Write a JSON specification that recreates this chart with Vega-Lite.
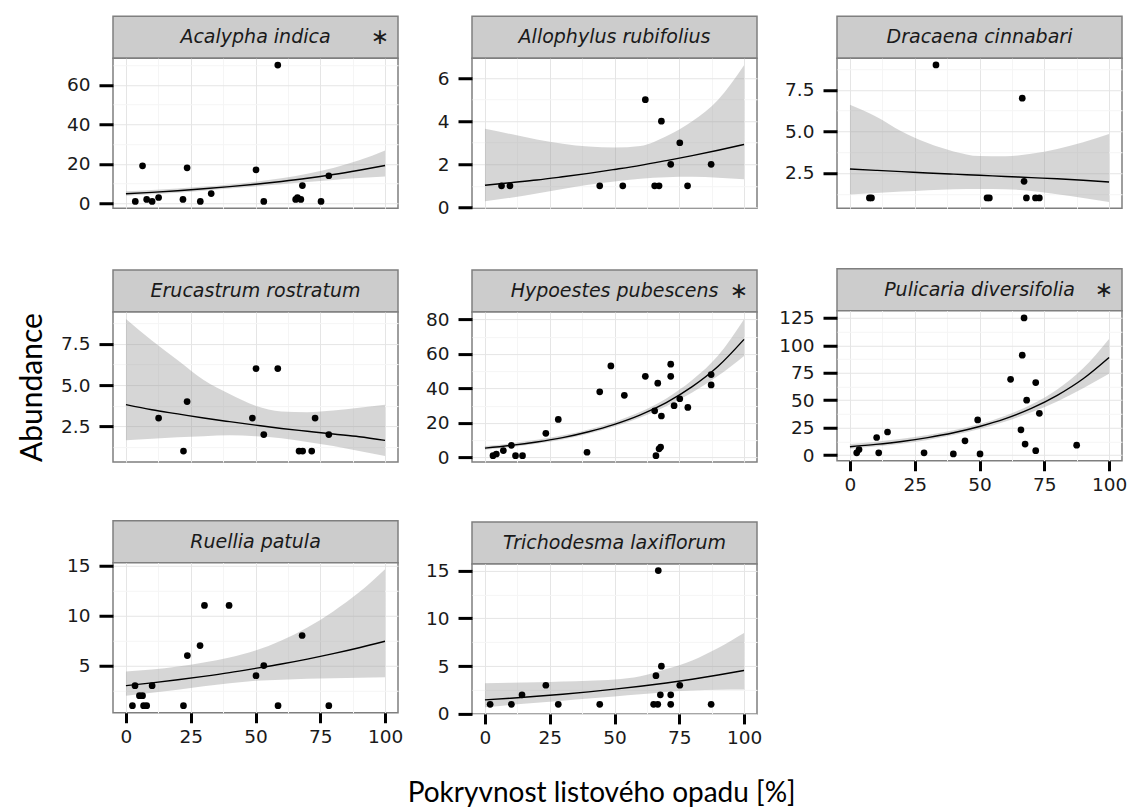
{
  "$schema": "https://vega.github.io/schema/vega-lite/v6.json",
  "background": "white",
  "padding": {"left": 16, "top": 15.25, "right": 5, "bottom": 0},
  "title": {"text": "Pokryvnost listového opadu [%]", "orient": "bottom", "anchor": "middle", "font": "Lato", "fontSize": 28, "fontWeight": "normal", "color": "#000000", "offset": 32, "dx": 29.5},
  "datasets": {
    "strips": [
      {"sp": "Acalypha indica", "sig": "∗"},
      {"sp": "Allophylus rubifolius", "sig": ""},
      {"sp": "Dracaena cinnabari", "sig": ""},
      {"sp": "Erucastrum rostratum", "sig": ""},
      {"sp": "Hypoestes pubescens", "sig": "∗"},
      {"sp": "Pulicaria diversifolia", "sig": "∗"},
      {"sp": "Ruellia patula", "sig": ""},
      {"sp": "Trichodesma laxiflorum", "sig": ""}
    ],
    "pts": [
      {"sp": "Acalypha indica", "x": 3.6, "y": 1}, {"sp": "Acalypha indica", "x": 6.4, "y": 19}, {"sp": "Acalypha indica", "x": 8.0, "y": 2}, {"sp": "Acalypha indica", "x": 10.1, "y": 1}, {"sp": "Acalypha indica", "x": 12.6, "y": 3}, {"sp": "Acalypha indica", "x": 22.0, "y": 2}, {"sp": "Acalypha indica", "x": 23.6, "y": 18}, {"sp": "Acalypha indica", "x": 28.7, "y": 1}, {"sp": "Acalypha indica", "x": 32.9, "y": 5}, {"sp": "Acalypha indica", "x": 50.2, "y": 17}, {"sp": "Acalypha indica", "x": 53.2, "y": 1}, {"sp": "Acalypha indica", "x": 58.6, "y": 70}, {"sp": "Acalypha indica", "x": 65.5, "y": 2}, {"sp": "Acalypha indica", "x": 66.2, "y": 3}, {"sp": "Acalypha indica", "x": 67.5, "y": 2}, {"sp": "Acalypha indica", "x": 68.1, "y": 9}, {"sp": "Acalypha indica", "x": 75.3, "y": 1}, {"sp": "Acalypha indica", "x": 78.3, "y": 14},
      {"sp": "Allophylus rubifolius", "x": 6.4, "y": 1}, {"sp": "Allophylus rubifolius", "x": 9.65, "y": 1}, {"sp": "Allophylus rubifolius", "x": 44.3, "y": 1}, {"sp": "Allophylus rubifolius", "x": 53.2, "y": 1}, {"sp": "Allophylus rubifolius", "x": 61.9, "y": 5}, {"sp": "Allophylus rubifolius", "x": 65.5, "y": 1}, {"sp": "Allophylus rubifolius", "x": 67.2, "y": 1}, {"sp": "Allophylus rubifolius", "x": 68.1, "y": 4}, {"sp": "Allophylus rubifolius", "x": 71.7, "y": 2}, {"sp": "Allophylus rubifolius", "x": 75.2, "y": 3}, {"sp": "Allophylus rubifolius", "x": 78.2, "y": 1}, {"sp": "Allophylus rubifolius", "x": 87.3, "y": 2},
      {"sp": "Dracaena cinnabari", "x": 7.5, "y": 1}, {"sp": "Dracaena cinnabari", "x": 8.3, "y": 1}, {"sp": "Dracaena cinnabari", "x": 33.2, "y": 9}, {"sp": "Dracaena cinnabari", "x": 52.9, "y": 1}, {"sp": "Dracaena cinnabari", "x": 53.8, "y": 1}, {"sp": "Dracaena cinnabari", "x": 66.5, "y": 7}, {"sp": "Dracaena cinnabari", "x": 67.2, "y": 2}, {"sp": "Dracaena cinnabari", "x": 68.1, "y": 1}, {"sp": "Dracaena cinnabari", "x": 71.6, "y": 1}, {"sp": "Dracaena cinnabari", "x": 73.1, "y": 1},
      {"sp": "Erucastrum rostratum", "x": 12.6, "y": 3}, {"sp": "Erucastrum rostratum", "x": 22.2, "y": 1}, {"sp": "Erucastrum rostratum", "x": 23.6, "y": 4}, {"sp": "Erucastrum rostratum", "x": 48.8, "y": 3}, {"sp": "Erucastrum rostratum", "x": 50.2, "y": 6}, {"sp": "Erucastrum rostratum", "x": 53.2, "y": 2}, {"sp": "Erucastrum rostratum", "x": 58.6, "y": 6}, {"sp": "Erucastrum rostratum", "x": 66.8, "y": 1}, {"sp": "Erucastrum rostratum", "x": 68.2, "y": 1}, {"sp": "Erucastrum rostratum", "x": 71.7, "y": 1}, {"sp": "Erucastrum rostratum", "x": 73.0, "y": 3}, {"sp": "Erucastrum rostratum", "x": 78.3, "y": 2},
      {"sp": "Hypoestes pubescens", "x": 3.1, "y": 1}, {"sp": "Hypoestes pubescens", "x": 4.4, "y": 2}, {"sp": "Hypoestes pubescens", "x": 7.1, "y": 4}, {"sp": "Hypoestes pubescens", "x": 10.2, "y": 7}, {"sp": "Hypoestes pubescens", "x": 11.8, "y": 1}, {"sp": "Hypoestes pubescens", "x": 14.5, "y": 1}, {"sp": "Hypoestes pubescens", "x": 23.5, "y": 14}, {"sp": "Hypoestes pubescens", "x": 28.3, "y": 22}, {"sp": "Hypoestes pubescens", "x": 39.4, "y": 3}, {"sp": "Hypoestes pubescens", "x": 44.3, "y": 38}, {"sp": "Hypoestes pubescens", "x": 48.6, "y": 53}, {"sp": "Hypoestes pubescens", "x": 53.8, "y": 36}, {"sp": "Hypoestes pubescens", "x": 61.9, "y": 47}, {"sp": "Hypoestes pubescens", "x": 65.5, "y": 27}, {"sp": "Hypoestes pubescens", "x": 66.0, "y": 1}, {"sp": "Hypoestes pubescens", "x": 66.7, "y": 43}, {"sp": "Hypoestes pubescens", "x": 67.2, "y": 5}, {"sp": "Hypoestes pubescens", "x": 67.8, "y": 6}, {"sp": "Hypoestes pubescens", "x": 68.1, "y": 24}, {"sp": "Hypoestes pubescens", "x": 71.7, "y": 54}, {"sp": "Hypoestes pubescens", "x": 71.7, "y": 47}, {"sp": "Hypoestes pubescens", "x": 73.0, "y": 30}, {"sp": "Hypoestes pubescens", "x": 75.2, "y": 34}, {"sp": "Hypoestes pubescens", "x": 78.3, "y": 29}, {"sp": "Hypoestes pubescens", "x": 87.3, "y": 48}, {"sp": "Hypoestes pubescens", "x": 87.3, "y": 42},
      {"sp": "Pulicaria diversifolia", "x": 2.6, "y": 2}, {"sp": "Pulicaria diversifolia", "x": 3.5, "y": 5}, {"sp": "Pulicaria diversifolia", "x": 10.3, "y": 16}, {"sp": "Pulicaria diversifolia", "x": 11.1, "y": 2}, {"sp": "Pulicaria diversifolia", "x": 14.5, "y": 21}, {"sp": "Pulicaria diversifolia", "x": 28.6, "y": 2}, {"sp": "Pulicaria diversifolia", "x": 39.9, "y": 1}, {"sp": "Pulicaria diversifolia", "x": 44.4, "y": 13}, {"sp": "Pulicaria diversifolia", "x": 49.3, "y": 32}, {"sp": "Pulicaria diversifolia", "x": 50.2, "y": 1}, {"sp": "Pulicaria diversifolia", "x": 62.0, "y": 69}, {"sp": "Pulicaria diversifolia", "x": 66.0, "y": 23}, {"sp": "Pulicaria diversifolia", "x": 66.5, "y": 91}, {"sp": "Pulicaria diversifolia", "x": 67.2, "y": 125}, {"sp": "Pulicaria diversifolia", "x": 67.6, "y": 10}, {"sp": "Pulicaria diversifolia", "x": 68.2, "y": 50}, {"sp": "Pulicaria diversifolia", "x": 71.7, "y": 66}, {"sp": "Pulicaria diversifolia", "x": 71.7, "y": 4}, {"sp": "Pulicaria diversifolia", "x": 73.1, "y": 38}, {"sp": "Pulicaria diversifolia", "x": 87.5, "y": 9},
      {"sp": "Ruellia patula", "x": 2.5, "y": 1}, {"sp": "Ruellia patula", "x": 3.5, "y": 3}, {"sp": "Ruellia patula", "x": 5.2, "y": 2}, {"sp": "Ruellia patula", "x": 6.4, "y": 2}, {"sp": "Ruellia patula", "x": 6.8, "y": 1}, {"sp": "Ruellia patula", "x": 8.0, "y": 1}, {"sp": "Ruellia patula", "x": 10.1, "y": 3}, {"sp": "Ruellia patula", "x": 22.2, "y": 1}, {"sp": "Ruellia patula", "x": 23.7, "y": 6}, {"sp": "Ruellia patula", "x": 28.6, "y": 7}, {"sp": "Ruellia patula", "x": 30.3, "y": 11}, {"sp": "Ruellia patula", "x": 39.8, "y": 11}, {"sp": "Ruellia patula", "x": 50.2, "y": 4}, {"sp": "Ruellia patula", "x": 53.2, "y": 5}, {"sp": "Ruellia patula", "x": 58.7, "y": 1}, {"sp": "Ruellia patula", "x": 68.0, "y": 8}, {"sp": "Ruellia patula", "x": 78.3, "y": 1},
      {"sp": "Trichodesma laxiflorum", "x": 2.0, "y": 1}, {"sp": "Trichodesma laxiflorum", "x": 10.2, "y": 1}, {"sp": "Trichodesma laxiflorum", "x": 14.3, "y": 2}, {"sp": "Trichodesma laxiflorum", "x": 23.5, "y": 3}, {"sp": "Trichodesma laxiflorum", "x": 28.3, "y": 1}, {"sp": "Trichodesma laxiflorum", "x": 44.3, "y": 1}, {"sp": "Trichodesma laxiflorum", "x": 65.1, "y": 1}, {"sp": "Trichodesma laxiflorum", "x": 66.0, "y": 4}, {"sp": "Trichodesma laxiflorum", "x": 66.7, "y": 1}, {"sp": "Trichodesma laxiflorum", "x": 66.9, "y": 15}, {"sp": "Trichodesma laxiflorum", "x": 67.7, "y": 2}, {"sp": "Trichodesma laxiflorum", "x": 68.1, "y": 5}, {"sp": "Trichodesma laxiflorum", "x": 71.7, "y": 2}, {"sp": "Trichodesma laxiflorum", "x": 71.7, "y": 1}, {"sp": "Trichodesma laxiflorum", "x": 75.2, "y": 3}, {"sp": "Trichodesma laxiflorum", "x": 87.3, "y": 1}
    ],
    "fit": [
      {"sp": "Acalypha indica", "x": 0, "fit": 4.9, "lo": 3.9, "hi": 6.2}, {"sp": "Acalypha indica", "x": 10, "fit": 5.6, "lo": 4.6, "hi": 6.8}, {"sp": "Acalypha indica", "x": 20, "fit": 6.4, "lo": 5.4, "hi": 7.6}, {"sp": "Acalypha indica", "x": 30, "fit": 7.4, "lo": 6.4, "hi": 8.5}, {"sp": "Acalypha indica", "x": 40, "fit": 8.5, "lo": 7.5, "hi": 9.6}, {"sp": "Acalypha indica", "x": 50, "fit": 9.7, "lo": 8.6, "hi": 11.0}, {"sp": "Acalypha indica", "x": 60, "fit": 11.1, "lo": 9.7, "hi": 12.7}, {"sp": "Acalypha indica", "x": 70, "fit": 12.7, "lo": 10.8, "hi": 15.0}, {"sp": "Acalypha indica", "x": 80, "fit": 14.6, "lo": 11.9, "hi": 17.9}, {"sp": "Acalypha indica", "x": 90, "fit": 16.8, "lo": 12.8, "hi": 21.8}, {"sp": "Acalypha indica", "x": 100, "fit": 19.2, "lo": 13.6, "hi": 26.8},
      {"sp": "Allophylus rubifolius", "x": 0, "fit": 1.03, "lo": 0.28, "hi": 3.65}, {"sp": "Allophylus rubifolius", "x": 10, "fit": 1.15, "lo": 0.45, "hi": 3.4}, {"sp": "Allophylus rubifolius", "x": 20, "fit": 1.27, "lo": 0.65, "hi": 3.15}, {"sp": "Allophylus rubifolius", "x": 30, "fit": 1.42, "lo": 0.85, "hi": 2.95}, {"sp": "Allophylus rubifolius", "x": 40, "fit": 1.58, "lo": 1.05, "hi": 2.82}, {"sp": "Allophylus rubifolius", "x": 50, "fit": 1.76, "lo": 1.2, "hi": 2.78}, {"sp": "Allophylus rubifolius", "x": 60, "fit": 1.95, "lo": 1.33, "hi": 2.85}, {"sp": "Allophylus rubifolius", "x": 70, "fit": 2.17, "lo": 1.4, "hi": 3.3}, {"sp": "Allophylus rubifolius", "x": 80, "fit": 2.4, "lo": 1.42, "hi": 4.0}, {"sp": "Allophylus rubifolius", "x": 90, "fit": 2.65, "lo": 1.38, "hi": 5.0}, {"sp": "Allophylus rubifolius", "x": 100, "fit": 2.92, "lo": 1.31, "hi": 6.6},
      {"sp": "Dracaena cinnabari", "x": 0, "fit": 2.74, "lo": 1.2, "hi": 6.6}, {"sp": "Dracaena cinnabari", "x": 10, "fit": 2.66, "lo": 1.3, "hi": 5.9}, {"sp": "Dracaena cinnabari", "x": 20, "fit": 2.58, "lo": 1.38, "hi": 5.0}, {"sp": "Dracaena cinnabari", "x": 30, "fit": 2.5, "lo": 1.46, "hi": 4.3}, {"sp": "Dracaena cinnabari", "x": 40, "fit": 2.43, "lo": 1.52, "hi": 3.8}, {"sp": "Dracaena cinnabari", "x": 50, "fit": 2.36, "lo": 1.54, "hi": 3.52}, {"sp": "Dracaena cinnabari", "x": 60, "fit": 2.29, "lo": 1.52, "hi": 3.5}, {"sp": "Dracaena cinnabari", "x": 70, "fit": 2.22, "lo": 1.42, "hi": 3.65}, {"sp": "Dracaena cinnabari", "x": 80, "fit": 2.15, "lo": 1.22, "hi": 3.95}, {"sp": "Dracaena cinnabari", "x": 90, "fit": 2.06, "lo": 1.0, "hi": 4.35}, {"sp": "Dracaena cinnabari", "x": 100, "fit": 1.96, "lo": 0.76, "hi": 4.85},
      {"sp": "Erucastrum rostratum", "x": 0, "fit": 3.81, "lo": 1.65, "hi": 9.0}, {"sp": "Erucastrum rostratum", "x": 10, "fit": 3.5, "lo": 1.75, "hi": 7.7}, {"sp": "Erucastrum rostratum", "x": 20, "fit": 3.25, "lo": 1.83, "hi": 6.5}, {"sp": "Erucastrum rostratum", "x": 30, "fit": 3.0, "lo": 1.9, "hi": 5.3}, {"sp": "Erucastrum rostratum", "x": 40, "fit": 2.78, "lo": 1.95, "hi": 4.45}, {"sp": "Erucastrum rostratum", "x": 50, "fit": 2.57, "lo": 1.9, "hi": 3.75}, {"sp": "Erucastrum rostratum", "x": 60, "fit": 2.37, "lo": 1.78, "hi": 3.4}, {"sp": "Erucastrum rostratum", "x": 70, "fit": 2.2, "lo": 1.55, "hi": 3.35}, {"sp": "Erucastrum rostratum", "x": 80, "fit": 2.03, "lo": 1.3, "hi": 3.45}, {"sp": "Erucastrum rostratum", "x": 90, "fit": 1.87, "lo": 1.0, "hi": 3.62}, {"sp": "Erucastrum rostratum", "x": 100, "fit": 1.65, "lo": 0.7, "hi": 3.81},
      {"sp": "Hypoestes pubescens", "x": 0, "fit": 5.4, "lo": 4.4, "hi": 6.6}, {"sp": "Hypoestes pubescens", "x": 10, "fit": 6.96, "lo": 5.9, "hi": 8.2}, {"sp": "Hypoestes pubescens", "x": 20, "fit": 8.96, "lo": 7.9, "hi": 10.2}, {"sp": "Hypoestes pubescens", "x": 30, "fit": 11.5, "lo": 10.4, "hi": 12.8}, {"sp": "Hypoestes pubescens", "x": 40, "fit": 14.9, "lo": 13.7, "hi": 16.2}, {"sp": "Hypoestes pubescens", "x": 50, "fit": 19.2, "lo": 17.9, "hi": 20.6}, {"sp": "Hypoestes pubescens", "x": 60, "fit": 24.7, "lo": 23.1, "hi": 26.4}, {"sp": "Hypoestes pubescens", "x": 70, "fit": 31.8, "lo": 29.6, "hi": 34.2}, {"sp": "Hypoestes pubescens", "x": 80, "fit": 41.0, "lo": 37.6, "hi": 44.8}, {"sp": "Hypoestes pubescens", "x": 90, "fit": 52.8, "lo": 47.3, "hi": 59.0}, {"sp": "Hypoestes pubescens", "x": 100, "fit": 68.4, "lo": 58.8, "hi": 80.0},
      {"sp": "Pulicaria diversifolia", "x": 0, "fit": 7.6, "lo": 5.8, "hi": 10.0}, {"sp": "Pulicaria diversifolia", "x": 10, "fit": 9.7, "lo": 7.7, "hi": 12.2}, {"sp": "Pulicaria diversifolia", "x": 20, "fit": 12.4, "lo": 10.3, "hi": 14.9}, {"sp": "Pulicaria diversifolia", "x": 30, "fit": 15.9, "lo": 13.8, "hi": 18.2}, {"sp": "Pulicaria diversifolia", "x": 40, "fit": 20.3, "lo": 18.2, "hi": 22.5}, {"sp": "Pulicaria diversifolia", "x": 50, "fit": 26.0, "lo": 23.8, "hi": 28.2}, {"sp": "Pulicaria diversifolia", "x": 60, "fit": 33.2, "lo": 30.6, "hi": 35.8}, {"sp": "Pulicaria diversifolia", "x": 70, "fit": 42.5, "lo": 38.9, "hi": 46.0}, {"sp": "Pulicaria diversifolia", "x": 80, "fit": 54.4, "lo": 48.8, "hi": 59.8}, {"sp": "Pulicaria diversifolia", "x": 90, "fit": 69.5, "lo": 60.8, "hi": 79.0}, {"sp": "Pulicaria diversifolia", "x": 100, "fit": 88.9, "lo": 74.0, "hi": 105.8},
      {"sp": "Ruellia patula", "x": 0, "fit": 3.0, "lo": 2.0, "hi": 4.4}, {"sp": "Ruellia patula", "x": 10, "fit": 3.28, "lo": 2.3, "hi": 4.6}, {"sp": "Ruellia patula", "x": 20, "fit": 3.59, "lo": 2.6, "hi": 4.9}, {"sp": "Ruellia patula", "x": 30, "fit": 3.93, "lo": 2.95, "hi": 5.3}, {"sp": "Ruellia patula", "x": 40, "fit": 4.3, "lo": 3.25, "hi": 5.8}, {"sp": "Ruellia patula", "x": 50, "fit": 4.72, "lo": 3.5, "hi": 6.5}, {"sp": "Ruellia patula", "x": 60, "fit": 5.16, "lo": 3.6, "hi": 7.5}, {"sp": "Ruellia patula", "x": 70, "fit": 5.65, "lo": 3.7, "hi": 8.8}, {"sp": "Ruellia patula", "x": 80, "fit": 6.19, "lo": 3.75, "hi": 10.4}, {"sp": "Ruellia patula", "x": 90, "fit": 6.78, "lo": 3.8, "hi": 12.3}, {"sp": "Ruellia patula", "x": 100, "fit": 7.43, "lo": 3.83, "hi": 14.6},
      {"sp": "Trichodesma laxiflorum", "x": 0, "fit": 1.47, "lo": 0.7, "hi": 3.22}, {"sp": "Trichodesma laxiflorum", "x": 10, "fit": 1.64, "lo": 0.95, "hi": 3.25}, {"sp": "Trichodesma laxiflorum", "x": 20, "fit": 1.84, "lo": 1.17, "hi": 3.3}, {"sp": "Trichodesma laxiflorum", "x": 30, "fit": 2.06, "lo": 1.38, "hi": 3.38}, {"sp": "Trichodesma laxiflorum", "x": 40, "fit": 2.31, "lo": 1.6, "hi": 3.48}, {"sp": "Trichodesma laxiflorum", "x": 50, "fit": 2.59, "lo": 1.82, "hi": 3.6}, {"sp": "Trichodesma laxiflorum", "x": 60, "fit": 2.9, "lo": 2.05, "hi": 3.95}, {"sp": "Trichodesma laxiflorum", "x": 70, "fit": 3.24, "lo": 2.3, "hi": 4.7}, {"sp": "Trichodesma laxiflorum", "x": 80, "fit": 3.63, "lo": 2.45, "hi": 5.6}, {"sp": "Trichodesma laxiflorum", "x": 90, "fit": 4.07, "lo": 2.52, "hi": 6.9}, {"sp": "Trichodesma laxiflorum", "x": 100, "fit": 4.55, "lo": 2.55, "hi": 8.46}
    ]
  },
  "spacing": 20,
  "hconcat": [
    {"spacing": 56.5, "vconcat": [
      {"spacing": 54.85, "vconcat": [
        {"spacing": 0, "bounds": "flush", "vconcat": [
          {"width": 285, "height": 42, "view": {"fill": "#cccccc", "stroke": "#7f7f7f", "strokeWidth": 1.5}, "data": {"name": "strips"}, "transform": [{"filter": "datum.sp === 'Acalypha indica'"}],
           "layer": [
            {"mark": {"type": "text", "font": "DejaVu Sans", "fontStyle": "italic", "fontSize": 19, "color": "#1a1a1a"}, "encoding": {"text": {"field": "sp"}}},
            {"transform": [{"filter": "datum.sig !== ''"}], "mark": {"type": "text", "font": "DejaVu Sans", "fontSize": 22, "color": "#1a1a1a"}, "encoding": {"text": {"field": "sig"}, "x": {"datum": 98, "type": "quantitative", "scale": {"domain": [-5, 105], "nice": false, "zero": false}, "axis": null}}}
           ]},
          {"width": 285, "height": 150, "view": {"fill": "white", "stroke": "#7f7f7f", "strokeWidth": 1.5}, "resolve": {"axis": {"x": "independent", "y": "independent"}},
           "layer": [
            {"data": {"name": "fit"}, "transform": [{"filter": "datum.sp === 'Acalypha indica'"}], "mark": {"type": "area", "color": "#999999", "opacity": 0.4, "interpolate": "monotone"},
             "encoding": {"x": {"field": "x", "type": "quantitative", "scale": {"domain": [-5, 105], "nice": false, "zero": false}, "axis": {"values": [0, 25, 50, 75, 100], "grid": true, "labels": false, "ticks": false, "title": null}},
                          "y": {"field": "lo", "type": "quantitative", "scale": {"domain": [-2.45, 73.45], "nice": false, "zero": false}, "axis": {"values": [0, 20, 40, 60], "grid": true, "ticks": true, "title": null}},
                          "y2": {"field": "hi"}}},
            {"data": {"name": "fit"}, "transform": [{"filter": "datum.sp === 'Acalypha indica'"}], "mark": {"type": "line", "color": "black", "strokeWidth": 1.4, "interpolate": "monotone"},
             "encoding": {"x": {"field": "x", "type": "quantitative", "axis": {"orient": "top", "values": [12.5, 37.5, 62.5, 87.5], "grid": true, "gridColor": "#f5f5f5", "labels": false, "ticks": false, "title": null, "minExtent": 0}},
                          "y": {"field": "fit", "type": "quantitative", "axis": {"orient": "right", "values": [10, 30, 50, 70], "grid": true, "gridColor": "#f5f5f5", "labels": false, "ticks": false, "title": null, "minExtent": 0}}}},
            {"data": {"name": "pts"}, "transform": [{"filter": "datum.sp === 'Acalypha indica'"}], "mark": {"type": "circle", "size": 45, "color": "black", "opacity": 1},
             "encoding": {"x": {"field": "x", "type": "quantitative", "axis": null}, "y": {"field": "y", "type": "quantitative", "axis": null}}}
           ]}
        ]},
        {"spacing": 0, "bounds": "flush", "vconcat": [
          {"width": 285, "height": 42, "view": {"fill": "#cccccc", "stroke": "#7f7f7f", "strokeWidth": 1.5}, "data": {"name": "strips"}, "transform": [{"filter": "datum.sp === 'Erucastrum rostratum'"}],
           "layer": [
            {"mark": {"type": "text", "font": "DejaVu Sans", "fontStyle": "italic", "fontSize": 19, "color": "#1a1a1a"}, "encoding": {"text": {"field": "sp"}}}
           ]},
          {"width": 285, "height": 150, "view": {"fill": "white", "stroke": "#7f7f7f", "strokeWidth": 1.5}, "resolve": {"axis": {"x": "independent", "y": "independent"}},
           "layer": [
            {"data": {"name": "fit"}, "transform": [{"filter": "datum.sp === 'Erucastrum rostratum'"}], "mark": {"type": "area", "color": "#999999", "opacity": 0.4, "interpolate": "monotone"},
             "encoding": {"x": {"field": "x", "type": "quantitative", "scale": {"domain": [-5, 105], "nice": false, "zero": false}, "axis": {"values": [0, 25, 50, 75, 100], "grid": true, "labels": false, "ticks": false, "title": null}},
                          "y": {"field": "lo", "type": "quantitative", "scale": {"domain": [0.33, 9.42], "nice": false, "zero": false}, "axis": {"values": [2.5, 5, 7.5], "format": ".1f", "grid": true, "ticks": true, "title": "Abundance", "titlePadding": 13, "titleFontSize": 30}},
                          "y2": {"field": "hi"}}},
            {"data": {"name": "fit"}, "transform": [{"filter": "datum.sp === 'Erucastrum rostratum'"}], "mark": {"type": "line", "color": "black", "strokeWidth": 1.4, "interpolate": "monotone"},
             "encoding": {"x": {"field": "x", "type": "quantitative", "axis": {"orient": "top", "values": [12.5, 37.5, 62.5, 87.5], "grid": true, "gridColor": "#f5f5f5", "labels": false, "ticks": false, "title": null, "minExtent": 0}},
                          "y": {"field": "fit", "type": "quantitative", "axis": {"orient": "right", "values": [1.25, 3.75, 6.25, 8.75], "grid": true, "gridColor": "#f5f5f5", "labels": false, "ticks": false, "title": null, "minExtent": 0}}}},
            {"data": {"name": "pts"}, "transform": [{"filter": "datum.sp === 'Erucastrum rostratum'"}], "mark": {"type": "circle", "size": 45, "color": "black", "opacity": 1},
             "encoding": {"x": {"field": "x", "type": "quantitative", "axis": null}, "y": {"field": "y", "type": "quantitative", "axis": null}}}
           ]}
        ]}
      ]},
      {"spacing": 0, "bounds": "flush", "vconcat": [
        {"width": 285, "height": 42, "view": {"fill": "#cccccc", "stroke": "#7f7f7f", "strokeWidth": 1.5}, "data": {"name": "strips"}, "transform": [{"filter": "datum.sp === 'Ruellia patula'"}],
         "layer": [
          {"mark": {"type": "text", "font": "DejaVu Sans", "fontStyle": "italic", "fontSize": 19, "color": "#1a1a1a"}, "encoding": {"text": {"field": "sp"}}}
         ]},
        {"width": 285, "height": 150, "view": {"fill": "white", "stroke": "#7f7f7f", "strokeWidth": 1.5}, "resolve": {"axis": {"x": "independent", "y": "independent"}},
         "layer": [
          {"data": {"name": "fit"}, "transform": [{"filter": "datum.sp === 'Ruellia patula'"}], "mark": {"type": "area", "color": "#999999", "opacity": 0.4, "interpolate": "monotone"},
           "encoding": {"x": {"field": "x", "type": "quantitative", "scale": {"domain": [-5, 105], "nice": false, "zero": false}, "axis": {"values": [0, 25, 50, 75, 100], "grid": true, "ticks": true, "title": null}},
                        "y": {"field": "lo", "type": "quantitative", "scale": {"domain": [0.3, 15.25], "nice": false, "zero": false}, "axis": {"values": [5, 10, 15], "grid": true, "ticks": true, "title": null}},
                        "y2": {"field": "hi"}}},
          {"data": {"name": "fit"}, "transform": [{"filter": "datum.sp === 'Ruellia patula'"}], "mark": {"type": "line", "color": "black", "strokeWidth": 1.4, "interpolate": "monotone"},
           "encoding": {"x": {"field": "x", "type": "quantitative", "axis": {"orient": "top", "values": [12.5, 37.5, 62.5, 87.5], "grid": true, "gridColor": "#f5f5f5", "labels": false, "ticks": false, "title": null, "minExtent": 0}},
                        "y": {"field": "fit", "type": "quantitative", "axis": {"orient": "right", "values": [2.5, 7.5, 12.5], "grid": true, "gridColor": "#f5f5f5", "labels": false, "ticks": false, "title": null, "minExtent": 0}}}},
          {"data": {"name": "pts"}, "transform": [{"filter": "datum.sp === 'Ruellia patula'"}], "mark": {"type": "circle", "size": 45, "color": "black", "opacity": 1},
           "encoding": {"x": {"field": "x", "type": "quantitative", "axis": null}, "y": {"field": "y", "type": "quantitative", "axis": null}}}
         ]}
      ]}
    ]},
    {"spacing": 14, "hconcat": [
      {"spacing": 52.65, "vconcat": [
        {"spacing": 50.85, "vconcat": [
          {"spacing": 0, "bounds": "flush", "vconcat": [
            {"width": 285, "height": 42, "view": {"fill": "#cccccc", "stroke": "#7f7f7f", "strokeWidth": 1.5}, "data": {"name": "strips"}, "transform": [{"filter": "datum.sp === 'Allophylus rubifolius'"}],
             "layer": [
              {"mark": {"type": "text", "font": "DejaVu Sans", "fontStyle": "italic", "fontSize": 19, "color": "#1a1a1a"}, "encoding": {"text": {"field": "sp"}}}
             ]},
            {"width": 285, "height": 150, "view": {"fill": "white", "stroke": "#7f7f7f", "strokeWidth": 1.5}, "resolve": {"axis": {"x": "independent", "y": "independent"}},
             "layer": [
              {"data": {"name": "fit"}, "transform": [{"filter": "datum.sp === 'Allophylus rubifolius'"}], "mark": {"type": "area", "color": "#999999", "opacity": 0.4, "interpolate": "monotone"},
               "encoding": {"x": {"field": "x", "type": "quantitative", "scale": {"domain": [-5, 105], "nice": false, "zero": false}, "axis": {"values": [0, 25, 50, 75, 100], "grid": true, "labels": false, "ticks": false, "title": null}},
                            "y": {"field": "lo", "type": "quantitative", "scale": {"domain": [-0.04, 6.92], "nice": false, "zero": false}, "axis": {"values": [0, 2, 4, 6], "grid": true, "ticks": true, "title": null}},
                            "y2": {"field": "hi"}}},
              {"data": {"name": "fit"}, "transform": [{"filter": "datum.sp === 'Allophylus rubifolius'"}], "mark": {"type": "line", "color": "black", "strokeWidth": 1.4, "interpolate": "monotone"},
               "encoding": {"x": {"field": "x", "type": "quantitative", "axis": {"orient": "top", "values": [12.5, 37.5, 62.5, 87.5], "grid": true, "gridColor": "#f5f5f5", "labels": false, "ticks": false, "title": null, "minExtent": 0}},
                            "y": {"field": "fit", "type": "quantitative", "axis": {"orient": "right", "values": [1, 3, 5], "grid": true, "gridColor": "#f5f5f5", "labels": false, "ticks": false, "title": null, "minExtent": 0}}}},
              {"data": {"name": "pts"}, "transform": [{"filter": "datum.sp === 'Allophylus rubifolius'"}], "mark": {"type": "circle", "size": 45, "color": "black", "opacity": 1},
               "encoding": {"x": {"field": "x", "type": "quantitative", "axis": null}, "y": {"field": "y", "type": "quantitative", "axis": null}}}
             ]}
          ]},
          {"spacing": 0, "bounds": "flush", "vconcat": [
            {"width": 285, "height": 42, "view": {"fill": "#cccccc", "stroke": "#7f7f7f", "strokeWidth": 1.5}, "data": {"name": "strips"}, "transform": [{"filter": "datum.sp === 'Hypoestes pubescens'"}],
             "layer": [
              {"mark": {"type": "text", "font": "DejaVu Sans", "fontStyle": "italic", "fontSize": 19, "color": "#1a1a1a"}, "encoding": {"text": {"field": "sp"}}},
              {"transform": [{"filter": "datum.sig !== ''"}], "mark": {"type": "text", "font": "DejaVu Sans", "fontSize": 22, "color": "#1a1a1a"}, "encoding": {"text": {"field": "sig"}, "x": {"datum": 98, "type": "quantitative", "scale": {"domain": [-5, 105], "nice": false, "zero": false}, "axis": null}}}
             ]},
            {"width": 285, "height": 150, "view": {"fill": "white", "stroke": "#7f7f7f", "strokeWidth": 1.5}, "resolve": {"axis": {"x": "independent", "y": "independent"}},
             "layer": [
              {"data": {"name": "fit"}, "transform": [{"filter": "datum.sp === 'Hypoestes pubescens'"}], "mark": {"type": "area", "color": "#999999", "opacity": 0.4, "interpolate": "monotone"},
               "encoding": {"x": {"field": "x", "type": "quantitative", "scale": {"domain": [-5, 105], "nice": false, "zero": false}, "axis": {"values": [0, 25, 50, 75, 100], "grid": true, "labels": false, "ticks": false, "title": null}},
                            "y": {"field": "lo", "type": "quantitative", "scale": {"domain": [-2.7, 84.2], "nice": false, "zero": false}, "axis": {"values": [0, 20, 40, 60, 80], "grid": true, "ticks": true, "title": null}},
                            "y2": {"field": "hi"}}},
              {"data": {"name": "fit"}, "transform": [{"filter": "datum.sp === 'Hypoestes pubescens'"}], "mark": {"type": "line", "color": "black", "strokeWidth": 1.4, "interpolate": "monotone"},
               "encoding": {"x": {"field": "x", "type": "quantitative", "axis": {"orient": "top", "values": [12.5, 37.5, 62.5, 87.5], "grid": true, "gridColor": "#f5f5f5", "labels": false, "ticks": false, "title": null, "minExtent": 0}},
                            "y": {"field": "fit", "type": "quantitative", "axis": {"orient": "right", "values": [10, 30, 50, 70], "grid": true, "gridColor": "#f5f5f5", "labels": false, "ticks": false, "title": null, "minExtent": 0}}}},
              {"data": {"name": "pts"}, "transform": [{"filter": "datum.sp === 'Hypoestes pubescens'"}], "mark": {"type": "circle", "size": 45, "color": "black", "opacity": 1},
               "encoding": {"x": {"field": "x", "type": "quantitative", "axis": null}, "y": {"field": "y", "type": "quantitative", "axis": null}}}
             ]}
          ]}
        ]},
        {"spacing": 0, "bounds": "flush", "vconcat": [
          {"width": 285, "height": 42, "view": {"fill": "#cccccc", "stroke": "#7f7f7f", "strokeWidth": 1.5}, "data": {"name": "strips"}, "transform": [{"filter": "datum.sp === 'Trichodesma laxiflorum'"}],
           "layer": [
            {"mark": {"type": "text", "font": "DejaVu Sans", "fontStyle": "italic", "fontSize": 19, "color": "#1a1a1a"}, "encoding": {"text": {"field": "sp"}}}
           ]},
          {"width": 285, "height": 150, "view": {"fill": "white", "stroke": "#7f7f7f", "strokeWidth": 1.5}, "resolve": {"axis": {"x": "independent", "y": "independent"}},
           "layer": [
            {"data": {"name": "fit"}, "transform": [{"filter": "datum.sp === 'Trichodesma laxiflorum'"}], "mark": {"type": "area", "color": "#999999", "opacity": 0.4, "interpolate": "monotone"},
             "encoding": {"x": {"field": "x", "type": "quantitative", "scale": {"domain": [-5, 105], "nice": false, "zero": false}, "axis": {"values": [0, 25, 50, 75, 100], "grid": true, "ticks": true, "title": null}},
                          "y": {"field": "lo", "type": "quantitative", "scale": {"domain": [0, 15.7], "nice": false, "zero": false}, "axis": {"values": [0, 5, 10, 15], "grid": true, "ticks": true, "title": null}},
                          "y2": {"field": "hi"}}},
            {"data": {"name": "fit"}, "transform": [{"filter": "datum.sp === 'Trichodesma laxiflorum'"}], "mark": {"type": "line", "color": "black", "strokeWidth": 1.4, "interpolate": "monotone"},
             "encoding": {"x": {"field": "x", "type": "quantitative", "axis": {"orient": "top", "values": [12.5, 37.5, 62.5, 87.5], "grid": true, "gridColor": "#f5f5f5", "labels": false, "ticks": false, "title": null, "minExtent": 0}},
                          "y": {"field": "fit", "type": "quantitative", "axis": {"orient": "right", "values": [2.5, 7.5, 12.5], "grid": true, "gridColor": "#f5f5f5", "labels": false, "ticks": false, "title": null, "minExtent": 0}}}},
            {"data": {"name": "pts"}, "transform": [{"filter": "datum.sp === 'Trichodesma laxiflorum'"}], "mark": {"type": "circle", "size": 45, "color": "black", "opacity": 1},
             "encoding": {"x": {"field": "x", "type": "quantitative", "axis": null}, "y": {"field": "y", "type": "quantitative", "axis": null}}}
           ]}
        ]}
      ]},
      {"spacing": 58.5, "vconcat": [
        {"spacing": 0, "bounds": "flush", "vconcat": [
          {"width": 285, "height": 42, "view": {"fill": "#cccccc", "stroke": "#7f7f7f", "strokeWidth": 1.5}, "data": {"name": "strips"}, "transform": [{"filter": "datum.sp === 'Dracaena cinnabari'"}],
           "layer": [
            {"mark": {"type": "text", "font": "DejaVu Sans", "fontStyle": "italic", "fontSize": 19, "color": "#1a1a1a"}, "encoding": {"text": {"field": "sp"}}}
           ]},
          {"width": 285, "height": 150, "view": {"fill": "white", "stroke": "#7f7f7f", "strokeWidth": 1.5}, "resolve": {"axis": {"x": "independent", "y": "independent"}},
           "layer": [
            {"data": {"name": "fit"}, "transform": [{"filter": "datum.sp === 'Dracaena cinnabari'"}], "mark": {"type": "area", "color": "#999999", "opacity": 0.4, "interpolate": "monotone"},
             "encoding": {"x": {"field": "x", "type": "quantitative", "scale": {"domain": [-5, 105], "nice": false, "zero": false}, "axis": {"values": [0, 25, 50, 75, 100], "grid": true, "labels": false, "ticks": false, "title": null}},
                          "y": {"field": "lo", "type": "quantitative", "scale": {"domain": [0.38, 9.4], "nice": false, "zero": false}, "axis": {"values": [2.5, 5, 7.5], "format": ".1f", "grid": true, "ticks": true, "title": null}},
                          "y2": {"field": "hi"}}},
            {"data": {"name": "fit"}, "transform": [{"filter": "datum.sp === 'Dracaena cinnabari'"}], "mark": {"type": "line", "color": "black", "strokeWidth": 1.4, "interpolate": "monotone"},
             "encoding": {"x": {"field": "x", "type": "quantitative", "axis": {"orient": "top", "values": [12.5, 37.5, 62.5, 87.5], "grid": true, "gridColor": "#f5f5f5", "labels": false, "ticks": false, "title": null, "minExtent": 0}},
                          "y": {"field": "fit", "type": "quantitative", "axis": {"orient": "right", "values": [1.25, 3.75, 6.25, 8.75], "grid": true, "gridColor": "#f5f5f5", "labels": false, "ticks": false, "title": null, "minExtent": 0}}}},
            {"data": {"name": "pts"}, "transform": [{"filter": "datum.sp === 'Dracaena cinnabari'"}], "mark": {"type": "circle", "size": 45, "color": "black", "opacity": 1},
             "encoding": {"x": {"field": "x", "type": "quantitative", "axis": null}, "y": {"field": "y", "type": "quantitative", "axis": null}}}
           ]}
        ]},
        {"spacing": 0, "bounds": "flush", "vconcat": [
          {"width": 285, "height": 42, "view": {"fill": "#cccccc", "stroke": "#7f7f7f", "strokeWidth": 1.5}, "data": {"name": "strips"}, "transform": [{"filter": "datum.sp === 'Pulicaria diversifolia'"}],
           "layer": [
            {"mark": {"type": "text", "font": "DejaVu Sans", "fontStyle": "italic", "fontSize": 19, "color": "#1a1a1a"}, "encoding": {"text": {"field": "sp"}}},
            {"transform": [{"filter": "datum.sig !== ''"}], "mark": {"type": "text", "font": "DejaVu Sans", "fontSize": 22, "color": "#1a1a1a"}, "encoding": {"text": {"field": "sig"}, "x": {"datum": 98, "type": "quantitative", "scale": {"domain": [-5, 105], "nice": false, "zero": false}, "axis": null}}}
           ]},
          {"width": 285, "height": 150, "view": {"fill": "white", "stroke": "#7f7f7f", "strokeWidth": 1.5}, "resolve": {"axis": {"x": "independent", "y": "independent"}},
           "layer": [
            {"data": {"name": "fit"}, "transform": [{"filter": "datum.sp === 'Pulicaria diversifolia'"}], "mark": {"type": "area", "color": "#999999", "opacity": 0.4, "interpolate": "monotone"},
             "encoding": {"x": {"field": "x", "type": "quantitative", "scale": {"domain": [-5, 105], "nice": false, "zero": false}, "axis": {"values": [0, 25, 50, 75, 100], "grid": true, "ticks": true, "title": null}},
                          "y": {"field": "lo", "type": "quantitative", "scale": {"domain": [-5.2, 131.5], "nice": false, "zero": false}, "axis": {"values": [0, 25, 50, 75, 100, 125], "grid": true, "ticks": true, "title": null}},
                          "y2": {"field": "hi"}}},
            {"data": {"name": "fit"}, "transform": [{"filter": "datum.sp === 'Pulicaria diversifolia'"}], "mark": {"type": "line", "color": "black", "strokeWidth": 1.4, "interpolate": "monotone"},
             "encoding": {"x": {"field": "x", "type": "quantitative", "axis": {"orient": "top", "values": [12.5, 37.5, 62.5, 87.5], "grid": true, "gridColor": "#f5f5f5", "labels": false, "ticks": false, "title": null, "minExtent": 0}},
                          "y": {"field": "fit", "type": "quantitative", "axis": {"orient": "right", "values": [12.5, 37.5, 62.5, 87.5, 112.5], "grid": true, "gridColor": "#f5f5f5", "labels": false, "ticks": false, "title": null, "minExtent": 0}}}},
            {"data": {"name": "pts"}, "transform": [{"filter": "datum.sp === 'Pulicaria diversifolia'"}], "mark": {"type": "circle", "size": 45, "color": "black", "opacity": 1},
             "encoding": {"x": {"field": "x", "type": "quantitative", "axis": null}, "y": {"field": "y", "type": "quantitative", "axis": null}}}
           ]}
        ]}
      ]}
    ]}
  ],
  "config": {
    "axis": {"domain": false, "ticks": true, "gridColor": "#e5e5e5", "gridWidth": 1, "tickColor": "#000000", "tickWidth": 3, "tickSize": 14, "tickOpacity": 1, "labelPadding": 9, "labelFont": "DejaVu Sans", "labelFontSize": 18.5, "labelColor": "#1a1a1a", "titleFont": "Lato", "titleFontSize": 28, "titleFontWeight": "normal", "titleColor": "#000000"},
    "axisX": {"tickSize": 10, "labelPadding": 5}
  }
}
